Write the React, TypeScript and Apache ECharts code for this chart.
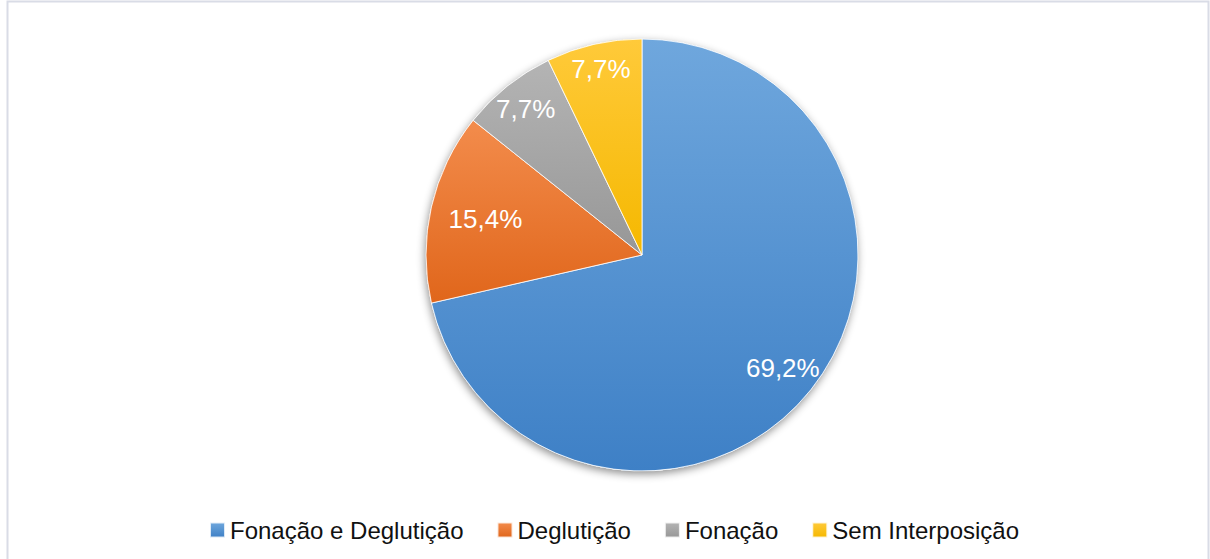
import React, { useEffect, useRef } from "react";
import * as echarts from "echarts";

const categories = ["Fonação e Deglutição", "Deglutição", "Fonação", "Sem Interposição"];
const values = [10, 2, 1, 1];
const percentLabels = ["69,2%", "15,4%", "7,7%", "7,7%"];
const gradientTop = ["#6fa7dd", "#f38c4c", "#b4b4b4", "#ffca3a"];
const gradientBottom = ["#3e80c6", "#e0661b", "#979797", "#f5b800"];
const labelNudgeX = [0, 19, -4, -1];
const labelNudgeY = [1, 4, -5, -10];

const FONT = "'Liberation Sans', Arial, sans-serif";

export default function App() {
  const ref = useRef<HTMLDivElement>(null);

  useEffect(() => {
    if (!ref.current) return;
    const chart = echarts.init(ref.current, null, { renderer: "svg" });
    const center = [642, 255];
    const R = 216;

    const mainData = categories.map((name, i) => ({
      name,
      value: values[i],
      itemStyle: {
        color: new echarts.graphic.LinearGradient(0, 0, 0, 1, [
          { offset: 0, color: gradientTop[i] },
          { offset: 1, color: gradientBottom[i] },
        ]),
      },
    }));

    const labelData = categories.map((name, i) => ({
      name,
      value: values[i],
      label: { formatter: percentLabels[i] },
    }));

    chart.setOption({
      animation: false,
      graphic: [
        {
          type: "rect",
          shape: { x: 7.5, y: 1.5, width: 1201, height: 620 },
          style: { fill: "none", stroke: "#d9dce6", lineWidth: 2 },
          silent: true,
          z: -10,
        },
      ],
      legend: {
        data: categories,
        left: 204,
        top: 513,
        icon: "rect",
        itemWidth: 15,
        itemHeight: 15,
        itemGap: 33,
        textStyle: { fontSize: 24, color: "#111", fontFamily: FONT },
        selectedMode: false,
      },
      series: [
        {
          type: "pie",
          name: "base",
          center,
          radius: [0, R],
          silent: true,
          startAngle: 90,
          label: { show: false },
          labelLine: { show: false },
          itemStyle: {
            color: "#ffffff",
            shadowBlur: 8,
            shadowOffsetX: -1,
            shadowOffsetY: 3,
            shadowColor: "rgba(0,0,0,0.45)",
          },
          data: [{ name: "base", value: 1 }],
        },
        {
          type: "pie",
          name: "main",
          center,
          radius: [0, R],
          startAngle: 90,
          clockwise: true,
          label: { show: false },
          labelLine: { show: false },
          emphasis: { disabled: true },
          itemStyle: { borderColor: "rgba(255,255,255,0.8)", borderWidth: 1 },
          data: mainData,
        },
        {
          type: "pie",
          name: "labels",
          center,
          radius: [R * 0.64, R],
          startAngle: 90,
          clockwise: true,
          silent: true,
          itemStyle: { color: "rgba(0,0,0,0)" },
          emphasis: { disabled: true },
          labelLine: { show: false },
          label: {
            show: true,
            position: "inside",
            color: "#ffffff",
            fontSize: 26,
            fontFamily: FONT,
          },
          labelLayout: (params: any) => ({
            dx: labelNudgeX[params.dataIndex] || 0,
            dy: labelNudgeY[params.dataIndex] || 0,
          }),
          data: labelData,
        },
      ],
    });
    return () => chart.dispose();
  }, []);

  return (
    <div
      ref={ref}
      style={{ position: "fixed", left: 0, top: 0, width: 1210, height: 559, background: "#fff" }}
    />
  );
}
